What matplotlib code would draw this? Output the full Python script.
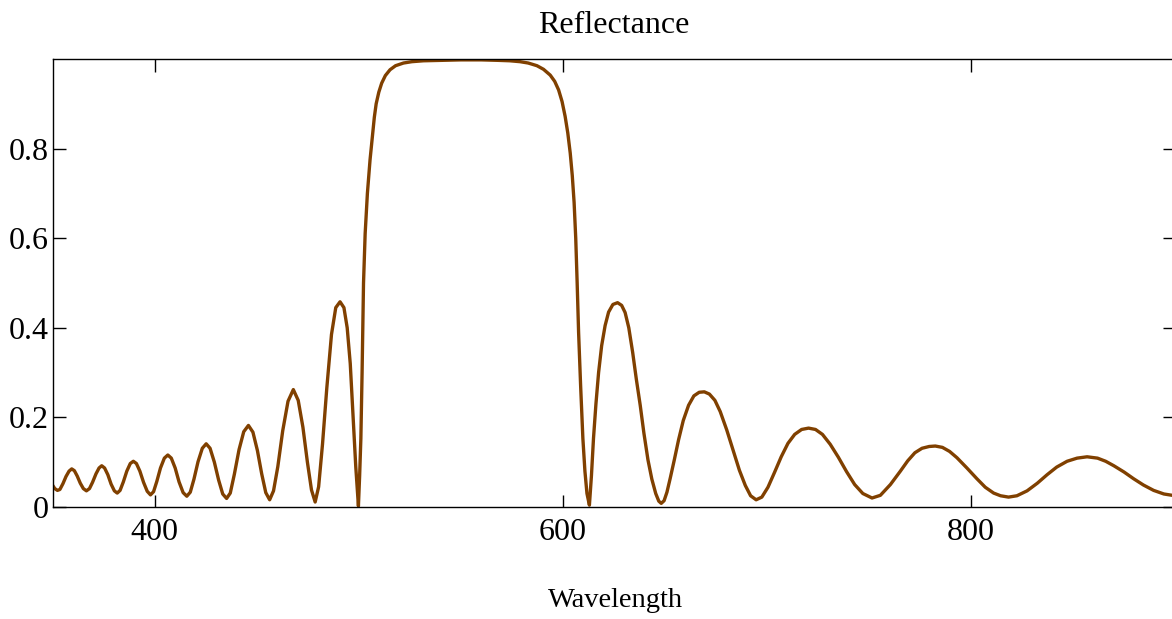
import matplotlib
matplotlib.use("Agg")
import matplotlib.pyplot as plt
from matplotlib.ticker import FuncFormatter

# reflectance, wavelength in nm
# short-wavelength side lobes
left_wl = [
    350.0, 351.0, 352.3, 353.5, 355.0, 356.5, 358.0, 359.3, 360.6, 362.0,
    363.5, 365.0, 366.5, 368.0, 369.5, 371.2, 372.7, 374.0, 375.4, 377.0,
    378.6, 380.2, 381.6, 383.0, 384.6, 386.3, 388.0, 389.5, 391.0, 392.7,
    394.5, 396.3, 397.9, 399.4, 401.0, 402.8, 404.7, 406.4, 408.1, 410.0,
    411.9, 413.9, 415.7, 417.4, 419.2, 421.2, 423.3, 425.2, 427.1, 429.2,
    431.3, 433.3, 435.2, 437.0, 439.0, 441.3, 443.6, 445.9, 448.1, 450.3,
    452.4, 454.4, 456.3, 458.2, 460.3, 462.7, 465.3, 467.9, 470.3, 472.6,
    474.8, 476.8, 478.6, 480.3, 482.2, 484.3, 486.6, 488.7, 490.8, 492.7,
    494.3, 495.8, 497.2, 498.5, 499.8,
]
left_r = [
    0.048, 0.041, 0.037, 0.039, 0.052, 0.068, 0.080, 0.085, 0.081, 0.069,
    0.053, 0.041, 0.036, 0.041, 0.055, 0.074, 0.087, 0.092, 0.087, 0.072,
    0.051, 0.036, 0.031, 0.037, 0.056, 0.080, 0.097, 0.102, 0.097, 0.080,
    0.055, 0.035, 0.027, 0.034, 0.057, 0.087, 0.109, 0.116, 0.109, 0.087,
    0.056, 0.032, 0.024, 0.033, 0.062, 0.101, 0.131, 0.141, 0.131, 0.100,
    0.060, 0.029, 0.019, 0.031, 0.073, 0.128, 0.168, 0.182, 0.167, 0.126,
    0.074, 0.032, 0.016, 0.036, 0.090, 0.170, 0.236, 0.262, 0.238, 0.178,
    0.100, 0.038, 0.011, 0.045, 0.140, 0.265, 0.385, 0.445, 0.458, 0.445,
    0.400, 0.320, 0.200, 0.090, 0.002,
]

# stop band
band_wl = [
    500.4, 501.0, 501.6, 502.3, 503.1, 504.2, 505.5, 506.8, 507.6, 508.5,
    509.8, 511.2, 513.0, 515.3, 518.0, 521.9, 526.0, 531.7, 540.0, 550.0,
    560.0, 568.0, 574.0, 579.0, 583.0, 587.3, 590.5, 593.8, 596.0, 597.9,
    599.6, 601.1, 602.4, 603.6, 604.6, 605.5, 606.3, 607.0, 607.7, 608.7,
    609.8, 610.8, 611.8, 613.0,
]
band_r = [
    0.070, 0.153, 0.300, 0.500, 0.610, 0.700, 0.775, 0.835, 0.870, 0.900,
    0.926, 0.946, 0.963, 0.976, 0.985, 0.991, 0.994, 0.996, 0.997, 0.998,
    0.998, 0.997, 0.996, 0.994, 0.991, 0.985, 0.977, 0.964, 0.950, 0.931,
    0.905, 0.872, 0.835, 0.790, 0.740, 0.680, 0.600, 0.500, 0.390, 0.270,
    0.153, 0.080, 0.030, 0.004,
]

# long-wavelength side lobes
right_wl = [
    614.0, 615.0, 616.2, 617.5, 619.0, 620.7, 622.4, 624.5, 626.8, 628.8,
    630.5, 632.3, 634.2, 636.0, 637.9, 639.7, 641.7, 643.6, 645.5, 647.0,
    648.2, 649.6, 651.0, 652.6, 654.6, 656.7, 659.0, 661.6, 664.2, 666.8,
    669.3, 671.8, 674.5, 677.1, 680.3, 683.6, 686.5, 689.4, 692.0, 694.7,
    697.5, 700.5, 703.8, 707.0, 710.3, 713.6, 717.0, 720.4, 723.8, 727.2,
    731.0, 735.0, 739.0, 743.0, 747.0, 751.5, 755.6, 760.5, 765.4, 769.0,
    772.5, 776.0, 779.5, 782.5, 786.0, 789.5, 793.1, 798.0, 802.9, 807.0,
    811.1, 814.5, 818.4, 822.5, 827.5, 832.5, 837.3, 842.0, 847.1, 852.0,
    856.9, 862.0, 866.0, 870.0, 875.0, 879.7, 884.5, 889.5, 894.5, 900.0,
]
right_r = [
    0.070, 0.153, 0.230, 0.300, 0.360, 0.405, 0.435, 0.452, 0.456, 0.450,
    0.434, 0.400, 0.345, 0.285, 0.227, 0.165, 0.105, 0.062, 0.030, 0.013,
    0.008, 0.014, 0.033, 0.064, 0.105, 0.150, 0.193, 0.227, 0.248, 0.256,
    0.257, 0.252, 0.238, 0.213, 0.172, 0.124, 0.082, 0.048, 0.025, 0.016,
    0.022, 0.044, 0.078, 0.112, 0.142, 0.162, 0.173, 0.176, 0.173, 0.162,
    0.140, 0.111, 0.079, 0.050, 0.030, 0.020, 0.026, 0.050, 0.080, 0.103,
    0.121, 0.131, 0.135, 0.136, 0.133, 0.124, 0.110, 0.087, 0.063, 0.044,
    0.031, 0.025, 0.022, 0.025, 0.036, 0.053, 0.072, 0.089, 0.102, 0.109,
    0.112, 0.109, 0.102, 0.092, 0.078, 0.063, 0.049, 0.037, 0.029, 0.025,
]

x_ticks = [400, 600, 800]
y_ticks = [0, 0.2, 0.4, 0.6, 0.8]


def main():
    plt.rcParams["font.family"] = ["Liberation Serif", "DejaVu Serif"]

    wl = left_wl + band_wl + right_wl
    refl = left_r + band_r + right_r

    fig = plt.figure(figsize=(11.72, 6.19), dpi=100)
    ax = fig.add_axes([0.045, 0.181, 0.9576, 0.7237])

    ax.plot(wl, refl, color="#804000", lw=2.4, solid_joinstyle="round")

    ax.set_xlim(350, 900)
    ax.set_ylim(0, 1.0)
    ax.set_xticks(x_ticks)
    ax.set_yticks(y_ticks)
    ax.yaxis.set_major_formatter(FuncFormatter(lambda v, _: "0" if v == 0 else f"{v:.1f}"))
    ax.tick_params(direction="in", length=9, width=1, top=True, right=True,
                   labelsize=23, color="black")
    ax.tick_params(axis="x", pad=8)
    ax.tick_params(axis="y", pad=3)
    for s in ax.spines.values():
        s.set_linewidth(1.0)
        s.set_color("black")

    fig.text(0.524, 0.946, "Reflectance", ha="center", va="baseline", fontsize=23)
    fig.text(0.525, 0.0194, "Wavelength", ha="center", va="baseline", fontsize=20.5)

    fig.savefig("out.png", dpi=100)


if __name__ == "__main__":
    main()
